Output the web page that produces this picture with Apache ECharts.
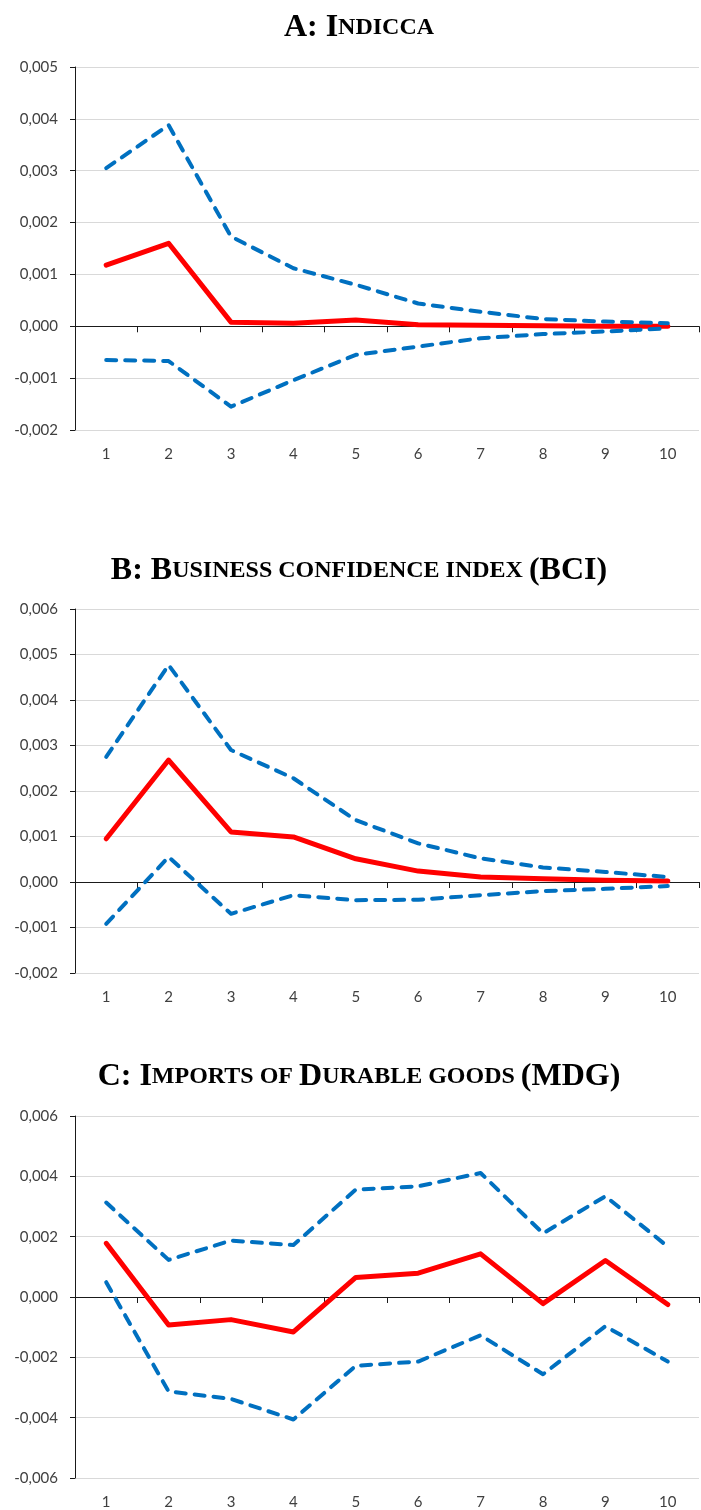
<!DOCTYPE html>
<html>
<head>
<meta charset="utf-8">
<script src="https://cdn.jsdelivr.net/npm/echarts@6/dist/echarts.min.js"></script>
<style>
  html, body { margin: 0; padding: 0; background: #ffffff; }
  #chart { width: 701px; height: 1510px; }
</style>
</head>
<body>
<div id="chart"></div>
<script>
// Impulse responses: periods on the x axis, point estimate with lower/upper bands
const periods = ['1', '2', '3', '4', '5', '6', '7', '8', '9', '10'];

// Panel A: INDICCA
const aResponse = [0.00118, 0.00160, 0.00008, 0.00006, 0.00012, 0.00003, 0.00002, 0.00001, 0.0, 0.0];
const aUpper    = [0.00305, 0.00388, 0.00173, 0.00112, 0.00080, 0.00044, 0.00028, 0.00014, 0.00009, 0.00006];
const aLower    = [-0.00065, -0.00067, -0.00155, -0.00104, -0.00055, -0.00039, -0.00023, -0.00015, -0.00010, -0.00004];

// Panel B: Business confidence index (BCI)
const bResponse = [0.00095, 0.00268, 0.00110, 0.00099, 0.00051, 0.00024, 0.00011, 0.00007, 0.00004, 0.00002];
const bUpper    = [0.00275, 0.00477, 0.00290, 0.00228, 0.00136, 0.00085, 0.00052, 0.00032, 0.00022, 0.00011];
const bLower    = [-0.00092, 0.00055, -0.00070, -0.00029, -0.00040, -0.00039, -0.00029, -0.00020, -0.00015, -0.00009];

// Panel C: Imports of durable goods (MDG)
const cResponse = [0.00178, -0.00093, -0.00075, -0.00116, 0.00065, 0.00079, 0.00143, -0.00022, 0.00121, -0.00025];
const cUpper    = [0.00313, 0.00123, 0.00187, 0.00172, 0.00356, 0.00367, 0.00411, 0.00211, 0.00334, 0.00167];
const cLower    = [0.00049, -0.00313, -0.00338, -0.00406, -0.00228, -0.00214, -0.00127, -0.00256, -0.00097, -0.00214];

// Axis ranges per panel
const yRanges = [
  { min: -0.002, max: 0.005, interval: 0.001 },
  { min: -0.002, max: 0.006, interval: 0.001 },
  { min: -0.006, max: 0.006, interval: 0.002 }
];

// Panel titles in small caps: big capitals (b) and reduced capitals (s)
const titles = [
  '{b|A: I}{s|NDICCA}',
  '{b|B: B}{s|USINESS CONFIDENCE INDEX }{b|(BCI)}',
  '{b|C: I}{s|MPORTS OF }{b|D}{s|URABLE GOODS }{b|(MDG)}'
];

const panels = [
  { r: aResponse, u: aUpper, l: aLower },
  { r: bResponse, u: bUpper, l: bLower },
  { r: cResponse, u: cUpper, l: cLower }
];

const gridBoxes = [
  { top: 67, height: 363, titleY: 28 },
  { top: 609, height: 364, titleY: 571 },
  { top: 1116, height: 364, titleY: 1077 }
];

const labelFont = { fontFamily: 'Lato', fontSize: 15, color: '#404040' };
const fmt = v => (Math.round(v * 1000) / 1000).toFixed(3).replace('.', ',');

const grid = [], xAxis = [], yAxis = [], series = [], graphic = [];

gridBoxes.forEach((g, i) => {
  grid.push({ left: 75, right: 2, top: g.top, height: g.height });

  // axis line with ticks sitting on the zero line
  xAxis.push({
    type: 'category', gridIndex: i, data: periods, boundaryGap: true,
    axisLine: { onZero: true, lineStyle: { color: '#1a1a1a', width: 1 } },
    axisTick: { show: true, length: 6, inside: false, lineStyle: { color: '#1a1a1a' } },
    axisLabel: { show: false },
    splitLine: { show: false }
  });
  // period labels along the bottom of the plot
  xAxis.push({
    type: 'category', gridIndex: i, data: periods, boundaryGap: true, position: 'bottom',
    axisLine: { show: false, onZero: false },
    axisTick: { show: false },
    axisLabel: Object.assign({ margin: 17 }, labelFont),
    splitLine: { show: false }
  });

  yAxis.push({
    type: 'value', gridIndex: i,
    min: yRanges[i].min, max: yRanges[i].max, interval: yRanges[i].interval,
    axisLine: { show: true, lineStyle: { color: '#1a1a1a', width: 1 } },
    axisTick: { show: true, length: 5, lineStyle: { color: '#1a1a1a' } },
    axisLabel: Object.assign({ margin: 17, formatter: fmt }, labelFont),
    splitLine: { show: true, lineStyle: { color: '#d9d9d9', width: 1 } }
  });

  const p = panels[i];
  series.push({
    type: 'line', xAxisIndex: i * 2, yAxisIndex: i, data: p.r,
    symbol: 'none', silent: true, z: 3,
    lineStyle: { color: '#ff0000', width: 5, cap: 'round', join: 'round' }
  });
  [p.u, p.l].forEach(d => {
    series.push({
      type: 'line', xAxisIndex: i * 2, yAxisIndex: i, data: d,
      symbol: 'none', silent: true, z: 4,
      lineStyle: { color: '#0070c0', width: 4, type: [10, 9], cap: 'round', join: 'round' }
    });
  });

  graphic.push({
    type: 'text', x: 359, y: g.titleY,
    style: {
      text: titles[i], align: 'center', verticalAlign: 'middle',
      rich: {
        b: { fontFamily: 'Liberation Serif', fontWeight: 'bold', fontSize: 32, fill: '#000000' },
        s: { fontFamily: 'Liberation Serif', fontWeight: 'bold', fontSize: 24, fill: '#000000' }
      }
    }
  });
});

const chart = echarts.init(document.getElementById('chart'), null, { renderer: 'canvas' });
chart.setOption({
  animation: false,
  backgroundColor: '#ffffff',
  grid, xAxis, yAxis, series, graphic
});
</script>
</body>
</html>
